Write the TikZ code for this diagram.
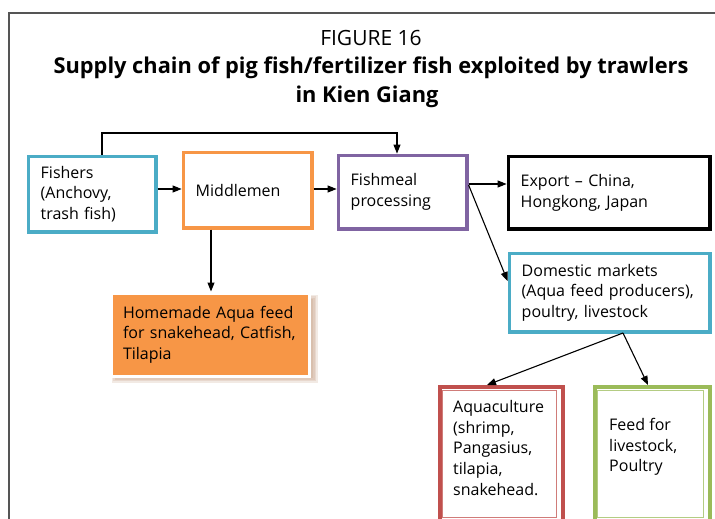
\documentclass[tikz,border=0pt]{standalone}
\usepackage{fontspec}
\setmainfont{Open Sans}
\usetikzlibrary{arrows.meta}
\definecolor{cblue}{HTML}{4BACC6}
\definecolor{corange}{HTML}{F79646}
\definecolor{cpurple}{HTML}{8064A2}
\definecolor{cred}{HTML}{C0504D}
\definecolor{cgreen}{HTML}{9BBB59}
\definecolor{cframe}{HTML}{555555}
\definecolor{cshadow}{HTML}{B88A6A}
\tikzset{
  boxtext/.style={font=\fontsize{16}{20.7}\selectfont, align=left},
  stepbox/.style={boxtext, draw, line width=3.2pt, inner xsep=11pt, inner ysep=0pt,
    anchor=north west},
  flow/.style={line width=1.1pt, -{Triangle[length=9pt,width=7pt]}},
  softshade/.style={fill=cshadow, opacity=0.18},
}
\begin{document}
\begin{tikzpicture}[x=1pt,y=-1pt]
\useasboundingbox (0,0) rectangle (715,519);
% page frame
\draw[cframe, line width=1.2pt] (9,530) -- (9,13) -- (730,13);
% heading
\node[font=\fontsize{21}{24}\selectfont] (fig) at (371,38) {FIGURE 16};
\node[font=\fontsize{21.8}{25}\bfseries\selectfont] (title) at (371,68)
  {Supply chain of pig fish/fertilizer fish exploited by trawlers};
\node[font=\fontsize{21.8}{25}\bfseries\selectfont] (title2) at (367,97) {in Kien Giang};
% main chain
\node[stepbox, draw=cblue, minimum width=127.8pt, minimum height=75.8pt, text width=102.8pt]
  (fishers) at (26.6,154.6) {Fishers\\(Anchovy,\\trash fish)};
\node[stepbox, draw=corange, minimum width=128.8pt, minimum height=75.8pt, text width=103.8pt]
  (middle) at (181.6,150.6) {Middlemen};
\node[stepbox, draw=cpurple, minimum width=128.8pt, minimum height=73.8pt, text width=103.8pt]
  (meal) at (336.6,153.6) {Fishmeal\\processing};
\node[stepbox, draw=black, minimum width=201.8pt, minimum height=72.8pt, text width=176.8pt]
  (export) at (506.6,154.6) {Export -- China,\\Hongkong, Japan};
\node[stepbox, draw=cblue, minimum width=200.8pt, minimum height=78.8pt, text width=175.8pt]
  (domestic) at (507.6,251.6) {Domestic markets\\(Aqua feed producers),\\poultry, livestock};
% soft shadow under the homemade feed box
\foreach \g in {0,1.5,3,4.5}
  \fill[softshade] (110+\g+1.5,293+\g+1.5) rectangle (316-\g+1.5,381-\g+1.5);
% homemade feed
\node[boxtext, fill=corange, draw=white, line width=3pt, anchor=north west,
  minimum width=198pt, minimum height=83pt, text width=175pt, inner xsep=10pt]
  (home) at (110,291.5) {Homemade Aqua feed\\for snakehead, Catfish,\\Tilapia};
% end users (boxes run past the lower edge), thick-thin borders
\node[draw=cred, line width=4pt, anchor=north west, minimum width=123pt, minimum height=150pt]
  (aqua) at (438,385) {};
\draw[cred!75, line width=1pt] (442.5,517) -- (442.5,390) -- (556,390) -- (556,517) -- cycle;
\node[boxtext, anchor=north west, inner sep=0pt] (aquatext) at (453,400)
  {Aquaculture\\(shrimp,\\Pangasius,\\tilapia,\\snakehead.};
\node[draw=cgreen, line width=4pt, anchor=north west, minimum width=115pt, minimum height=150pt]
  (feed) at (593,385) {};
\draw[cgreen!75, line width=1pt] (597.5,517) -- (597.5,390) -- (703.5,390) -- (703.5,517) -- cycle;
\node[boxtext, anchor=north west, inner sep=0pt] (feedtext) at (609,418)
  {Feed for\\livestock,\\Poultry};
% connectors
\draw[flow] (fishers.east |- 0,189) -- (middle.west |- 0,189);
\draw[flow] (middle.east |- 0,189) -- (meal.west |- 0,189);
\draw[flow] (fishers.north -| 102,0) -- (102,133) -- (397,133) -- (meal.north -| 397,0);
\draw[flow] (meal.east |- 0,184) -- (export.west |- 0,184);
\draw[flow] (meal.east |- 0,185) -- (domestic.west |- 0,281);
\draw[flow] (middle.south -| 211,0) -- (home.north -| 211,0);
\coordinate (split) at (623,333);
\draw[flow] (split) -- (aqua.north -| 487,0);
\draw[flow] (split) -- (feed.north -| 648,0);
\end{tikzpicture}
\end{document}
